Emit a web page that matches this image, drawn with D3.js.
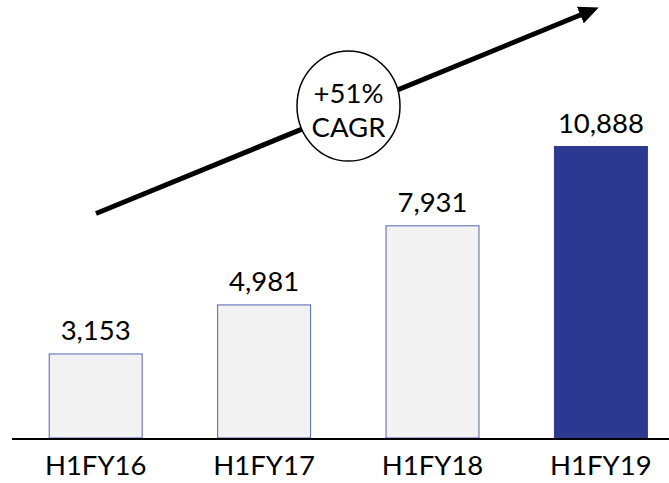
<!DOCTYPE html>
<html><head><meta charset="utf-8">
<script src="https://cdn.jsdelivr.net/npm/d3@7"></script>
<style>html,body{margin:0;padding:0;background:#fff;}svg{display:block;}</style>
</head><body>
<svg id="chart" width="669" height="483"></svg>
<script>
const categories = ["H1FY16", "H1FY17", "H1FY18", "H1FY19"];
const values = [3153, 4981, 7931, 10888];
const valueLabels = ["3,153", "4,981", "7,931", "10,888"];
const highlight = [false, false, false, true];
const cagrLines = ["+51%", "CAGR"];

const svg = d3.select("#chart");
const font = "Lato, 'Open Sans', sans-serif";
const fs = 27.5;

const x = d3.scaleBand().domain(categories).range([11.5, 685.1]).paddingInner(0.442).paddingOuter(0.221);
const y = d3.scaleLinear().domain([0, 10888]).range([438, 146]);

svg.selectAll("rect.bar").data(values).enter().append("rect")
  .attr("class", "bar")
  .attr("x", (d, i) => x(categories[i]) + 0.5)
  .attr("y", d => y(d) + 0.5)
  .attr("width", x.bandwidth() - 1)
  .attr("height", d => y(0) - y(d) - 0.5)
  .attr("fill", (d, i) => highlight[i] ? "#2B3990" : "#F2F2F2")
  .attr("stroke", (d, i) => highlight[i] ? "#2B3990" : "#5563B0")
  .attr("stroke-width", 1);

svg.selectAll("text.val").data(values).enter().append("text")
  .attr("class", "val")
  .attr("x", (d, i) => x(categories[i]) + x.bandwidth() / 2)
  .attr("y", d => y(d) - 13)
  .attr("text-anchor", "middle")
  .attr("font-family", font).attr("font-size", fs).attr("fill", "#000")
  .text((d, i) => valueLabels[i]);

// baseline axis
const axis = d3.axisBottom(x).tickSize(0).tickPadding(0);
const g = svg.append("g").attr("transform", `translate(0,${y(0)})`).call(axis);
g.select(".domain").remove();
g.selectAll("text").attr("font-family", font).attr("font-size", fs).attr("fill", "#000").attr("dy", null).attr("y", 37);
svg.append("line").attr("x1", 12).attr("x2", 669).attr("y1", y(0) + 1).attr("y2", y(0) + 1)
  .attr("stroke", "#000").attr("stroke-width", 2);

// growth arrow
const defs = svg.append("defs");
defs.append("marker").attr("id", "ah").attr("markerUnits", "userSpaceOnUse")
  .attr("viewBox", "0 0 20 18").attr("refX", 4).attr("refY", 9)
  .attr("markerWidth", 20).attr("markerHeight", 18).attr("orient", "auto")
  .append("path").attr("d", "M0,0 L20,9 L0,18 Z").attr("fill", "#000");
svg.append("line").attr("x1", 96).attr("y1", 213.5).attr("x2", 584).attr("y2", 13.5)
  .attr("stroke", "#000").attr("stroke-width", 5).attr("marker-end", "url(#ah)");

svg.append("ellipse").attr("cx", 348.5).attr("cy", 106).attr("rx", 51.5).attr("ry", 55)
  .attr("fill", "#fff").attr("stroke", "#000").attr("stroke-width", 1.5);
svg.selectAll("text.cagr").data(cagrLines).enter().append("text")
  .attr("class", "cagr")
  .attr("x", 348.5).attr("y", (d, i) => 103 + i * 34)
  .attr("text-anchor", "middle").attr("font-family", font).attr("font-size", fs).attr("fill", "#000")
  .text(d => d);
</script>
</body></html>
